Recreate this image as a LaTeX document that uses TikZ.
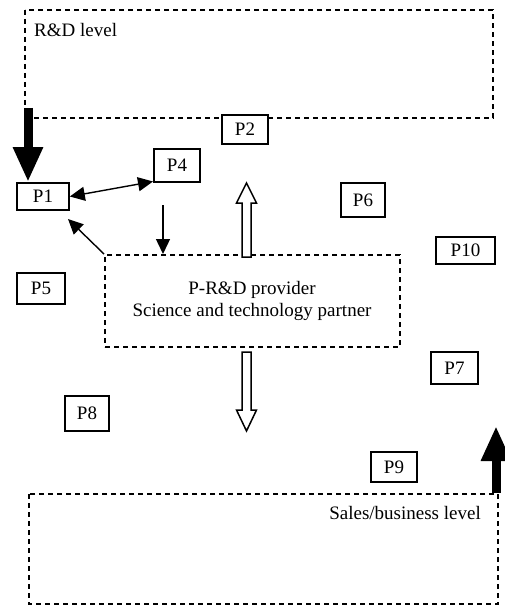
\documentclass[tikz,border=0pt]{standalone}
\usepackage{fontspec}
\setmainfont{Liberation Serif}
\usetikzlibrary{arrows.meta,calc}
\begin{document}
\begin{tikzpicture}[x=1pt,y=-1pt,
  pbox/.style={draw,line width=1.6pt,minimum width=#1,inner sep=0pt,font=\fontsize{19}{22}\selectfont},
  pbox/.default=46pt,
  dbox/.style={draw,line width=1.8pt,dash pattern=on 5pt off 4pt},
  lbl/.style={inner sep=0pt,font=\fontsize{19}{22}\selectfont},
  thin/.style={line width=1.4pt,-{Triangle[width=14pt,length=15pt]}},
  thick/.style={line width=9pt,-{Triangle[width=28pt,length=35pt]}},
  hollow/.style={draw,line width=1.5pt,fill=white,line join=miter}]
\useasboundingbox (0,0) rectangle (505,607);
% level boxes
\draw[dbox] (25,10) rectangle (493,118);
\draw[dbox] (29,494) rectangle (498,604);
\node[lbl,anchor=west] (rdl) at (34,30) {R\&D level};
\node[lbl,anchor=east] (sbl) at (481,513) {Sales/business level};
% provider box
\node[dbox,minimum width=295pt,minimum height=92pt,inner sep=0pt] (prov) at (252.5,301) {};
\node[lbl,align=center] (provt) at (252,301) {P-R\&D provider\\Science and technology partner};
% P boxes
\node[pbox=46pt,minimum height=29pt,fill=white] (P2) at (245,129.5) {P2};
\node[pbox=46pt,minimum height=33pt] (P4) at (177,165.5) {P4};
\node[pbox=52pt,minimum height=27pt] (P1) at (43,196.5) {P1};
\node[pbox=44pt,minimum height=34pt] (P6) at (363,200) {P6};
\node[pbox=59pt,minimum height=27pt] (P10) at (465.5,250.5) {P10};
\node[pbox=48pt,minimum height=31pt] (P5) at (41,288.5) {P5};
\node[pbox=47pt,minimum height=32pt] (P7) at (454.5,368) {P7};
\node[pbox=44pt,minimum height=35pt] (P8) at (87,413.5) {P8};
\node[pbox=46pt,minimum height=30pt] (P9) at (394,467) {P9};
% thick arrows
\coordinate (t1) at (28,108);
\coordinate (t1e) at (28,182);
\draw[thick] (t1) -- (t1e);
\coordinate (t2) at (496,493);
\coordinate (t2e) at (496,426);
\draw[thick] (t2) -- (t2e);
% thin arrows
\draw[thin,{Triangle[width=14pt,length=15pt]}-{Triangle[width=14pt,length=15pt]}] (P1.east) -- (153,181.5);
\draw[thin] (prov.north west) -- (68,219);
\coordinate (d4) at (163,205);
\draw[thin] (d4) -- (163,254);
% hollow arrows
\coordinate (u0) at (246.5,257);
\coordinate (u1) at (246.5,183);
\draw[hollow] ($(u0)+(-4.5,0)$) -- ($(u1)+(-4.5,20)$) -- ($(u1)+(-10,20)$) -- (u1) -- ($(u1)+(10,20)$) -- ($(u1)+(4.5,20)$) -- ($(u0)+(4.5,0)$) -- cycle;
\coordinate (w0) at (246.5,352);
\coordinate (w1) at (246.5,431);
\draw[hollow] ($(w0)+(-4.5,0)$) -- ($(w1)+(-4.5,-21)$) -- ($(w1)+(-10,-21)$) -- (w1) -- ($(w1)+(10,-21)$) -- ($(w1)+(4.5,-21)$) -- ($(w0)+(4.5,0)$) -- cycle;
\end{tikzpicture}
\end{document}
